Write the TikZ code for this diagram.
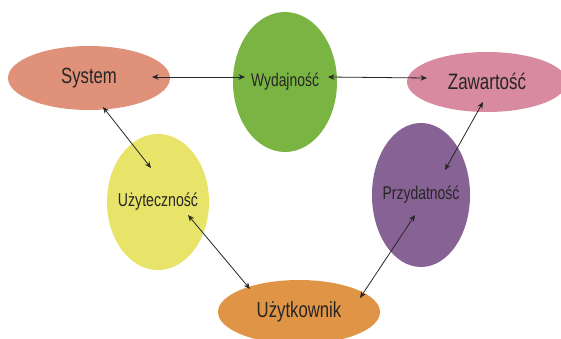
\documentclass[tikz,border=0pt]{standalone}
\usepackage{fontspec}
\setmainfont[FakeStretch=0.76]{Liberation Sans}
\usepackage{tikz}
\usetikzlibrary{shapes.geometric,arrows.meta}
\definecolor{sysc}{RGB}{224,145,122}
\definecolor{wydc}{RGB}{122,180,66}
\definecolor{zawc}{RGB}{216,138,160}
\definecolor{uzyc}{RGB}{232,228,106}
\definecolor{przc}{RGB}{135,98,148}
\definecolor{uzkc}{RGB}{224,148,70}
\tikzstyle{bubble} = [shape=ellipse, inner sep=0pt, text=black!85]
\tikzstyle{conn} = [<->, >={Stealth[length=6.5pt,width=5.5pt]}, line width=.8pt, black!85]
\newcommand{\lbl}[3][0pt]{\raisebox{#1}{\makebox[0pt]{\fontsize{#2}{#2}\selectfont #3}}}

\begin{document}
\begin{tikzpicture}[x=1pt,y=-1pt]
    \path[use as bounding box, clip] (0,0) rectangle (561,338);
    \draw (89,78) node[bubble, fill=sysc, minimum width=162pt, minimum height=64pt] (sys) {\lbl[-1pt]{22pt}{System}};
    \draw (285,82) node[bubble, fill=wydc, minimum width=104pt, minimum height=140pt] (wyd) {\lbl[4pt]{18.3pt}{Wydajność}};
    \draw (487,82) node[bubble, fill=zawc, minimum width=160pt, minimum height=60pt] (zaw) {\lbl[1pt]{22.3pt}{Zawartość}};
    \draw (158,202) node[bubble, fill=uzyc, minimum width=102pt, minimum height=136pt] (uzy) {\lbl[5pt]{18.6pt}{Użyteczność}};
    \draw (421,195) node[bubble, fill=przc, minimum width=98pt, minimum height=144pt] (prz) {\lbl[2pt]{18.4pt}{Przydatność}};
    \draw (299,312) node[bubble, fill=uzkc, minimum width=162pt, minimum height=64pt] (uzk) {\lbl{22pt}{Użytkownik}};
    \draw [conn] ([shift={(63,-1)}]sys.center) -- ([shift={(-40,-5)}]wyd.center);
    \draw [conn] ([shift={(43,-5)}]wyd.center) -- ([shift={(-60,-4)}]zaw.center);
    \draw [conn] ([shift={(14,29)}]sys.center) -- ([shift={(-7,-34)}]uzy.center);
    \draw [conn] ([shift={(30,13)}]uzy.center) -- ([shift={(-49,-23)}]uzk.center);
    \draw [conn] ([shift={(-4,20)}]zaw.center) -- ([shift={(24,-25)}]prz.center);
    \draw [conn] ([shift={(-6,20)}]prz.center) -- ([shift={(61,-14)}]uzk.center);
\end{tikzpicture}
\end{document}
